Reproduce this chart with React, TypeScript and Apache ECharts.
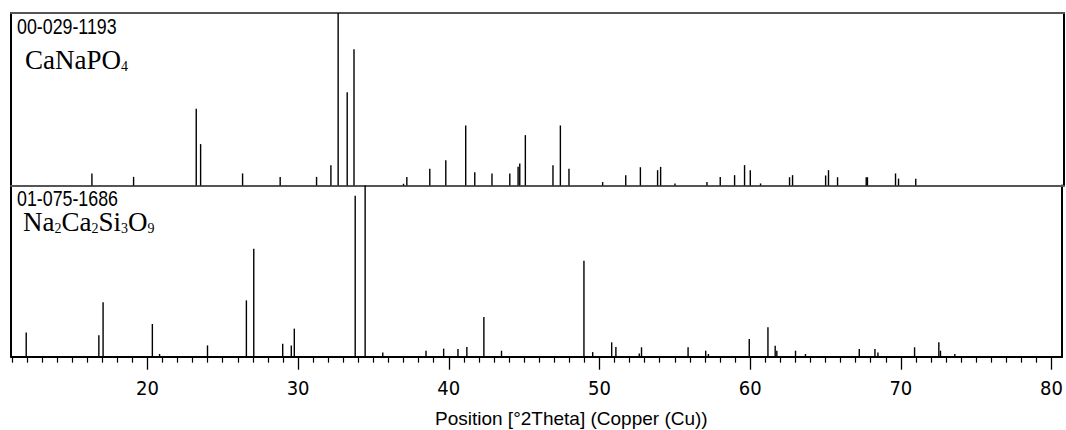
import React, { useEffect, useRef } from "react";
import * as echarts from "echarts";

// CaNaPO4 reference pattern 00-029-1193: [2Theta, relative intensity %]
const topPositions = [16.31, 19.07, 23.22, 23.51, 26.29, 28.78, 31.19, 32.14, 32.62, 33.22, 33.67, 36.95, 37.17, 38.69, 39.75, 41.07, 41.67, 42.81, 43.99, 44.54, 44.65, 45.02, 46.85, 47.34, 47.91, 50.14, 51.67, 52.64, 53.78, 53.98, 54.93, 57.05, 57.93, 58.88, 59.54, 59.92, 60.6, 62.52, 62.72, 64.91, 65.1, 65.7, 67.6, 67.68, 69.54, 69.74, 70.88];
const topIntensities = [7, 5, 44.5, 24, 7, 5, 5, 11.8, 100, 54, 79, 1, 5, 9.7, 14.7, 34.8, 7.7, 7, 7, 10.8, 12.8, 29.2, 11.8, 34.8, 9.7, 2, 6, 10.6, 8.9, 10.8, 1.2, 2, 5, 6, 11.8, 8.9, 1.2, 4.8, 6, 5.8, 8.9, 4.8, 4.8, 4.8, 7, 4, 3.9];

// Na2Ca2Si3O9 reference pattern 01-075-1686
const bottomPositions = [11.96, 16.78, 17.06, 20.33, 20.81, 23.99, 26.57, 27.06, 28.98, 29.55, 29.75, 33.79, 34.45, 35.62, 38.49, 39.66, 40.61, 41.2, 42.33, 43.5, 48.97, 49.55, 50.81, 51.09, 52.64, 52.79, 55.88, 57.05, 57.23, 59.94, 61.18, 61.66, 61.77, 63.01, 63.67, 67.24, 68.28, 68.48, 70.91, 72.52, 72.63, 73.58];
const bottomIntensities = [14.2, 12.5, 31.8, 19.1, 1.6, 6.6, 32.9, 63, 7.6, 6.6, 16.4, 94, 100, 2.5, 3.5, 4.7, 4.5, 5.7, 23.2, 3.5, 56.1, 2.7, 8.4, 5.7, 1.8, 5.5, 5.5, 3.5, 1.6, 10.3, 17.2, 6.4, 3.5, 3.5, 1.6, 4.5, 4.5, 2.5, 5.5, 8.4, 3.5, 1.6];

const majorTicks = [20, 30, 40, 50, 60, 70, 80];
const minorTicks = [11, 12, 13, 14, 15, 16, 17, 18, 19, 21, 22, 23, 24, 25, 26, 27, 28, 29, 31, 32, 33, 34, 35, 36, 37, 38, 39, 41, 42, 43, 44, 45, 46, 47, 48, 49, 51, 52, 53, 54, 55, 56, 57, 58, 59, 61, 62, 63, 64, 65, 66, 67, 68, 69, 71, 72, 73, 74, 75, 76, 77, 78, 79];

const xMin = 10.95;
const xMax = 80.7;

const topCode = "00-029-1193";
const bottomCode = "01-075-1686";
const axisTitle = "Position [°2Theta] (Copper (Cu))";

const SANS = "'Liberation Sans', Arial, sans-serif";
const SERIF = "'Liberation Serif', 'DejaVu Serif', serif";

const stickRender = (params: any, api: any) => {
  const x = api.value(0);
  const y = api.value(1);
  const p0 = api.coord([x, 0]);
  const p1 = api.coord([x, y]);
  return {
    type: "line",
    shape: { x1: p0[0], y1: p0[1], x2: p1[0], y2: p1[1] },
    style: { stroke: "#000", lineWidth: 1.4 },
  };
};

const hiddenX = (gridIndex: number, position: string, color: string) => ({
  type: "value",
  gridIndex,
  position,
  min: xMin,
  max: xMax,
  axisLine: { show: true, onZero: false, lineStyle: { color, width: 2 } },
  axisTick: { show: false },
  axisLabel: { show: false },
  splitLine: { show: false },
});

const frameY = (gridIndex: number, position: string) => ({
  type: "value",
  gridIndex,
  position,
  min: 0,
  max: 100,
  axisLine: { show: true, onZero: false, lineStyle: { color: "#000", width: 2 } },
  axisTick: { show: false },
  axisLabel: { show: false },
  splitLine: { show: false },
});

const formulaRich = {
  b: { fontSize: 27, fontFamily: SERIF, fill: "#000", verticalAlign: "bottom", lineHeight: 26 },
  s: { fontSize: 14, fontFamily: SERIF, fill: "#000", verticalAlign: "bottom", lineHeight: 18 },
};

export default function App() {
  const ref = useRef<HTMLDivElement>(null);
  useEffect(() => {
    if (!ref.current) return;
    const chart = echarts.init(ref.current, undefined, { renderer: "svg" });
    const option: any = {
      animation: false,
      backgroundColor: "#fff",
      grid: [
        { left: 11, top: 13, width: 1053, height: 172.5 },
        { left: 11, top: 185.5, width: 1053, height: 171.2 },
      ],
      xAxis: [
        hiddenX(0, "bottom", "#555"),
        hiddenX(0, "top", "#555"),
        {
          type: "value",
          gridIndex: 1,
          position: "bottom",
          min: xMin,
          max: xMax,
          axisLine: { show: true, onZero: false, lineStyle: { color: "#000", width: 2 } },
          axisTick: { show: true, customValues: majorTicks, length: 13, lineStyle: { color: "#000", width: 1.3 } },
          axisLabel: {
            show: true,
            customValues: majorTicks,
            margin: 21,
            color: "#000",
            fontSize: 20,
            fontFamily: "'DejaVu Sans Condensed', 'Liberation Sans', sans-serif",
          },
          splitLine: { show: false },
        },
        {
          type: "value",
          gridIndex: 1,
          position: "bottom",
          min: xMin,
          max: xMax,
          axisLine: { show: false },
          axisTick: { show: true, customValues: minorTicks, length: 6, lineStyle: { color: "#000", width: 1.2 } },
          axisLabel: { show: false },
          splitLine: { show: false },
        },
      ],
      yAxis: [frameY(0, "left"), frameY(0, "right"), frameY(1, "left"), frameY(1, "right")],
      series: [
        {
          type: "custom",
          xAxisIndex: 0,
          yAxisIndex: 0,
          renderItem: stickRender,
          encode: { x: 0, y: 1 },
          data: topPositions.map((p, i) => [p, topIntensities[i]]),
          silent: true,
        },
        {
          type: "custom",
          xAxisIndex: 2,
          yAxisIndex: 2,
          renderItem: stickRender,
          encode: { x: 0, y: 1 },
          data: bottomPositions.map((p, i) => [p, bottomIntensities[i]]),
          silent: true,
        },
      ],
      graphic: [
        {
          type: "text",
          x: 17,
          y: 18.7,
          scaleX: 0.81,
          originX: 0,
          style: { text: topCode, fill: "#000", fontSize: 22, fontFamily: SANS, lineHeight: 16, align: "left", verticalAlign: "top" },
        },
        {
          type: "text",
          x: 17,
          y: 190.2,
          scaleX: 0.81,
          originX: 0,
          style: { text: bottomCode, fill: "#000", fontSize: 22, fontFamily: SANS, lineHeight: 16, align: "left", verticalAlign: "top" },
        },
        {
          type: "text",
          left: 25,
          top: 46,
          style: { text: "{b|CaNaPO}{s|4}", rich: formulaRich },
        },
        {
          type: "text",
          left: 23,
          top: 208,
          style: { text: "{b|Na}{s|2}{b|Ca}{s|2}{b|Si}{s|3}{b|O}{s|9}", rich: formulaRich },
        },
        {
          type: "text",
          left: 435,
          top: 409,
          style: { text: axisTitle, fill: "#000", fontSize: 19, fontFamily: SANS },
        },
      ],
    };
    chart.setOption(option);
    return () => chart.dispose();
  }, []);
  return (
    <div
      ref={ref}
      style={{ position: "absolute", left: 0, top: 0, width: 1066, height: 430, background: "#fff" }}
    />
  );
}
